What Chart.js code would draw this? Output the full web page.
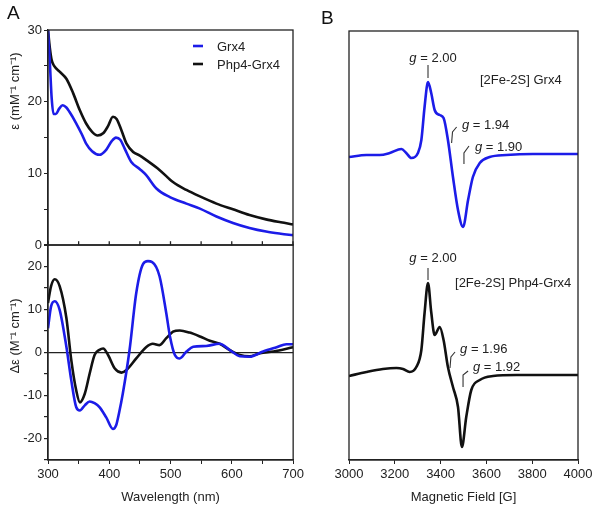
<!DOCTYPE html>
<html>
<head>
<meta charset="utf-8">
<script src="https://cdn.jsdelivr.net/npm/chart.js@4.4.1/dist/chart.umd.min.js"></script>
<style>
body { margin: 0; background: #fff; width: 600px; height: 505px; position: relative; overflow: hidden; font-family: "Liberation Sans", Arial, sans-serif; }
canvas { position: absolute; }
.panel { position: absolute; font-size: 19px; color: #111; }
</style>
</head>
<body>
<canvas id="absChart" width="300" height="255" style="left:0;top:0"></canvas>
<canvas id="cdChart" width="307" height="270" style="left:0;top:235px"></canvas>
<canvas id="eprChart" width="300" height="505" style="left:300px;top:0"></canvas>
<div class="panel" style="left:7px;top:2px">A</div>
<div class="panel" style="left:321px;top:7px">B</div>
<script>
// ====== Absorbance (A, top) ======
const absWlGrx4 = [300, 303, 306, 309, 313, 318, 324, 330, 335, 346, 355, 362, 372, 384, 395, 404, 411, 418, 425, 436, 450, 460, 477, 499, 526, 548, 575, 602, 629, 656, 680, 700];
const absGrx4 = [30, 25.5, 20.5, 18.3, 18.3, 19.0, 19.5, 19.2, 18.6, 17.0, 15.5, 14.2, 13.1, 12.6, 13.3, 14.5, 15.0, 14.7, 13.5, 11.6, 10.6, 9.8, 7.9, 6.7, 5.8, 5.1, 4.0, 3.1, 2.4, 1.9, 1.6, 1.4];
const absWlPhp4 = [300, 303, 306, 310, 319, 330, 341, 352, 362, 372, 381, 390, 398, 406, 412, 420, 428, 439, 450, 460, 482, 504, 526, 548, 575, 602, 629, 656, 680, 700];
const absPhp4 = [30, 27.5, 25.8, 25.0, 24.2, 23.2, 21.2, 18.8, 17.0, 15.8, 15.3, 15.6, 16.6, 17.9, 17.6, 16.0, 14.2, 13.0, 12.5, 11.9, 10.5, 8.8, 7.7, 6.8, 5.8, 5.0, 4.2, 3.6, 3.2, 2.9];

// ====== CD (A, bottom) ======
const cdWlGrx4 = [300, 305, 311, 319, 330, 338, 346, 352, 360, 368, 376, 384, 395, 406, 411, 416, 422, 433, 444, 455, 463, 470, 482, 493, 499, 507, 515, 526, 537, 558, 580, 597, 613, 629, 651, 673, 689, 700];
const cdGrx4 = [5.6, 10.7, 11.9, 9.9, 1.3, -6.5, -12.7, -13.5, -12.3, -11.4, -11.8, -12.7, -15.1, -17.8, -17.0, -14.0, -9.6, 0.5, 13.8, 20.5, 21.2, 21.0, 17.7, 9.1, 3.7, -0.6, -1.4, 0.2, 1.3, 1.5, 2.0, 0.5, -0.9, -1.0, 0.2, 1.2, 1.9, 1.9];
const cdWlPhp4 = [300, 305, 311, 319, 330, 338, 346, 352, 360, 368, 376, 384, 390, 398, 409, 420, 428, 444, 460, 471, 482, 493, 504, 515, 531, 548, 564, 580, 597, 613, 629, 646, 668, 700];
const cdPhp4 = [11.5, 15.4, 17.0, 15.4, 8.0, -1.8, -8.8, -11.6, -9.6, -4.9, -0.6, 0.6, 0.9, -0.6, -3.75, -4.7, -4.1, -1.4, 1.2, 2.0, 1.7, 3.3, 4.8, 5.1, 4.6, 3.7, 2.7, 2.0, 0.5, -0.6, -0.9, -0.2, 0.2, 1.2];

// ====== EPR (B), arbitrary intensity, traces offset ======
const eprFieldGrx4 = [3000, 3076, 3134, 3178, 3229, 3250, 3272, 3301, 3316, 3330, 3345, 3359, 3374, 3396, 3413, 3432, 3454, 3476, 3498, 3520, 3541, 3571, 3614, 3687, 3803, 4000];
const eprGrx4 = [303, 305, 305, 307, 311, 307, 302, 307, 320, 353, 378, 367, 350, 345, 342, 320, 283, 250, 233, 260, 283, 297, 303, 305, 306, 306];
const eprFieldPhp4 = [3000, 3076, 3148, 3207, 3236, 3265, 3294, 3316, 3330, 3345, 3359, 3374, 3396, 3413, 3432, 3454, 3476, 3493, 3512, 3534, 3571, 3629, 3731, 4000];
const eprPhp4 = [84, 88, 91, 92, 91, 88, 93, 110, 147, 177, 148, 125, 133, 120, 93, 73, 53, 13, 43, 70, 80, 84, 85, 85];

const seriesNames = ['Grx4', 'Php4-Grx4'];
const blue = '#1c1ce8';
const black = '#111111';
const axisColor = '#222';
const fontFam = '"Liberation Sans", Arial, sans-serif';

function pts(xs, ys) { return xs.map((x, i) => ({ x: x, y: ys[i] })); }

function line(label, xs, ys, color) {
    return {
        label: label,
        data: pts(xs, ys),
        borderColor: color,
        borderWidth: 2.6,
        pointRadius: 0,
        cubicInterpolationMode: 'monotone',
        fill: false
    };
}

// box round the plot area, optional inward ticks along the bottom, optional y title
const framePlugin = {
    id: 'frame',
    afterDatasetsDraw(chart, args, opts) {
        const { ctx, chartArea: a } = chart;
        ctx.save();
        ctx.strokeStyle = axisColor;
        ctx.lineWidth = 1.3;
        ctx.strokeRect(a.left, a.top, a.right - a.left, a.bottom - a.top);
        if (opts.innerTicks) {
            const xs = chart.scales.x;
            for (let v = xs.min; v <= xs.max; v += opts.innerTicks) {
                const px = xs.getPixelForValue(v);
                ctx.beginPath();
                ctx.moveTo(px, a.bottom);
                ctx.lineTo(px, a.bottom - 4);
                ctx.stroke();
            }
        }
        if (opts.yTitle) {
            ctx.translate(15, opts.yTitleMid);
            ctx.rotate(-Math.PI / 2);
            ctx.font = '13px ' + fontFam;
            ctx.fillStyle = axisColor;
            ctx.textAlign = 'center';
            ctx.textBaseline = 'middle';
            ctx.fillText(opts.yTitle, 0, 0);
        }
        ctx.restore();
    }
};

const tickFont = { family: fontFam, size: 13 };
const titleFont = { family: fontFam, size: 13 };

// ====== Absorbance chart ======
new Chart(document.getElementById('absChart'), {
    type: 'line',
    data: { datasets: [line(seriesNames[0], absWlGrx4, absGrx4, blue), line(seriesNames[1], absWlPhp4, absPhp4, black)] },
    options: {
        responsive: false,
        animation: false,
        layout: { padding: { left: 0, top: 30, right: 7, bottom: 0 } },
        plugins: {
            legend: { display: false },
            tooltip: { enabled: false },
            frame: { innerTicks: 50, yTitle: 'ε (mM⁻¹ cm⁻¹)', yTitleMid: 91 }
        },
        scales: {
            x: { type: 'linear', min: 300, max: 700, display: false },
            y: {
                min: 0, max: 30,
                afterFit(s) { s.width = 48; },
                ticks: { stepSize: 5, color: axisColor, font: tickFont, padding: 2, callback: v => v % 10 === 0 ? v : '' },
                grid: { drawOnChartArea: false, tickLength: 4, tickColor: axisColor },
                border: { color: axisColor, width: 1.3 }
            }
        }
    },
    plugins: [framePlugin, {
        id: 'absLegend',
        afterDraw(chart) {
            const ctx = chart.ctx;
            ctx.save();
            ctx.font = '13px ' + fontFam;
            ctx.textBaseline = 'middle';
            chart.data.datasets.forEach((ds, i) => {
                const y = 46 + i * 18;
                ctx.strokeStyle = ds.borderColor;
                ctx.lineWidth = 2.6;
                ctx.beginPath();
                ctx.moveTo(193, y);
                ctx.lineTo(203, y);
                ctx.stroke();
                ctx.fillStyle = axisColor;
                ctx.fillText(ds.label, 217, y + 1);
            });
            ctx.restore();
        }
    }]
});

// ====== CD chart ======
new Chart(document.getElementById('cdChart'), {
    type: 'line',
    data: { datasets: [line(seriesNames[0], cdWlGrx4, cdGrx4, blue), line(seriesNames[1], cdWlPhp4, cdPhp4, black)] },
    options: {
        responsive: false,
        animation: false,
        layout: { padding: { left: 0, top: 0, right: 7, bottom: 0 } },
        plugins: {
            legend: { display: false },
            tooltip: { enabled: false },
            frame: { yTitle: 'Δε (M⁻¹ cm⁻¹)', yTitleMid: 101 }
        },
        scales: {
            x: {
                type: 'linear', min: 300, max: 700,
                afterFit(s) { s.height = 45; },
                ticks: { stepSize: 50, color: axisColor, font: tickFont, padding: 3, maxRotation: 0, callback: v => v % 100 === 0 ? v : '' },
                grid: { drawOnChartArea: false, tickLength: 4, tickColor: axisColor },
                border: { color: axisColor, width: 1.3 },
                title: { display: true, text: 'Wavelength (nm)', color: axisColor, font: titleFont, padding: { top: 0, bottom: 0 } }
            },
            y: {
                min: -25, max: 25,
                afterFit(s) { s.width = 48; },
                ticks: { stepSize: 5, color: axisColor, font: tickFont, padding: 2, callback: v => v % 10 === 0 ? v : '' },
                grid: {
                    drawOnChartArea: true, tickLength: 4, tickColor: axisColor, lineWidth: 1.2,
                    color: c => c.tick && c.tick.value === 0 ? axisColor : 'rgba(0,0,0,0)'
                },
                border: { color: axisColor, width: 1.3 }
            }
        }
    },
    plugins: [framePlugin]
});

// ====== EPR chart ======
const gMarks = [
    { g: '2.00', path: [[3345, 395], [3345, 382]], at: [3367, 402], align: 'center' },
    { g: '1.94', path: [[3448, 317], [3452, 328], [3470, 333]], at: [3493, 335], align: 'left' },
    { g: '1.90', path: [[3502, 296], [3502, 307], [3524, 314]], at: [3550, 313], align: 'left' },
    { g: '2.00', path: [[3345, 192], [3345, 180]], at: [3367, 202], align: 'center' },
    { g: '1.96', path: [[3441, 92], [3445, 103], [3463, 108]], at: [3485, 111], align: 'left' },
    { g: '1.92', path: [[3498, 73], [3498, 85], [3520, 89]], at: [3541, 93], align: 'left' }
];
const sampleNotes = [
    { text: '[2Fe-2S] Grx4', at: [3572, 380] },
    { text: '[2Fe-2S] Php4-Grx4', at: [3463, 177] }
];

const notesPlugin = {
    id: 'eprNotes',
    afterDatasetsDraw(chart) {
        const { ctx, scales: { x, y } } = chart;
        const px = p => [x.getPixelForValue(p[0]), y.getPixelForValue(p[1])];
        ctx.save();
        ctx.fillStyle = axisColor;
        ctx.strokeStyle = '#333';
        ctx.lineWidth = 1.1;
        ctx.textBaseline = 'middle';
        ctx.textAlign = 'left';
        gMarks.forEach(m => {
            ctx.beginPath();
            m.path.forEach((p, i) => {
                const [qx, qy] = px(p);
                if (i === 0) ctx.moveTo(qx, qy); else ctx.lineTo(qx, qy);
            });
            ctx.stroke();
            const [tx, ty] = px(m.at);
            const ital = 'italic 13px ' + fontFam;
            const norm = '13px ' + fontFam;
            const rest = ' = ' + m.g;
            ctx.font = ital;
            const w1 = ctx.measureText('g').width;
            ctx.font = norm;
            const w2 = ctx.measureText(rest).width;
            const x0 = m.align === 'center' ? tx - (w1 + w2) / 2 : tx;
            ctx.font = ital;
            ctx.fillText('g', x0, ty);
            ctx.font = norm;
            ctx.fillText(rest, x0 + w1, ty);
        });
        ctx.font = '13px ' + fontFam;
        sampleNotes.forEach(n => {
            const [tx, ty] = px(n.at);
            ctx.fillText(n.text, tx, ty);
        });
        ctx.restore();
    }
};

new Chart(document.getElementById('eprChart'), {
    type: 'line',
    data: { datasets: [line(seriesNames[0], eprFieldGrx4, eprGrx4, blue), line(seriesNames[1], eprFieldPhp4, eprPhp4, black)] },
    options: {
        responsive: false,
        animation: false,
        layout: { padding: { left: 49, top: 31, right: 22, bottom: 0 } },
        plugins: { legend: { display: false }, tooltip: { enabled: false }, frame: {} },
        scales: {
            x: {
                type: 'linear', min: 3000, max: 4000,
                afterFit(s) { s.height = 45; },
                ticks: { stepSize: 200, color: axisColor, font: tickFont, padding: 3, maxRotation: 0, callback: v => String(v) },
                grid: { drawOnChartArea: false, tickLength: 4, tickColor: axisColor },
                border: { color: axisColor, width: 1.3 },
                title: { display: true, text: 'Magnetic Field [G]', color: axisColor, font: titleFont, padding: { top: 0, bottom: 0 } }
            },
            y: { min: 0, max: 429, display: false }
        }
    },
    plugins: [framePlugin, notesPlugin]
});
</script>
</body>
</html>
